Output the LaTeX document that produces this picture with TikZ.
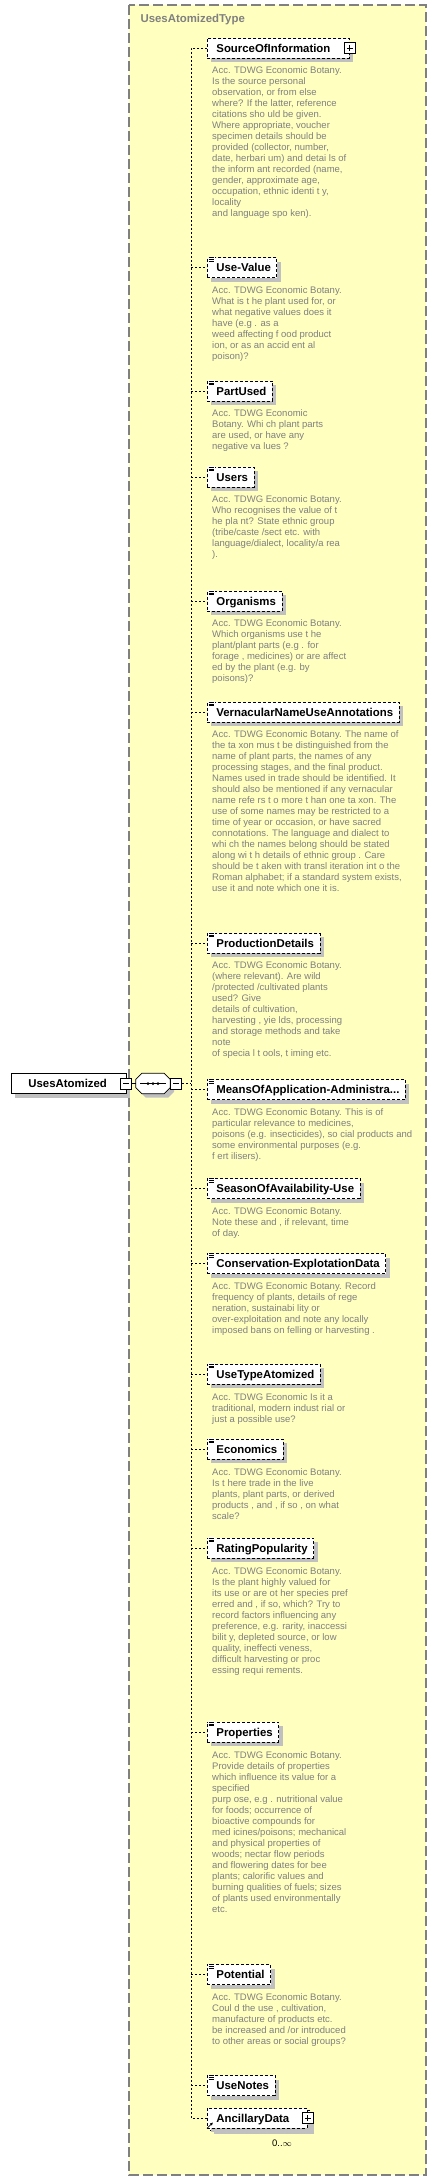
\documentclass[tikz,border=0pt]{standalone}
\usepackage{fontspec}
\setmainfont{Liberation Sans}
\usetikzlibrary{positioning,shadows,arrows.meta}

\definecolor{typeyellow}{RGB}{255,255,192}
\definecolor{typegray}{RGB}{128,128,128}
\definecolor{docgray}{RGB}{128,128,128}
\definecolor{shadowgray}{RGB}{192,192,192}

\newcommand\elemfont{\fontsize{11.4}{13}\selectfont\bfseries}
\newcommand\docfont{\fontsize{9.5}{11}\selectfont}

\tikzset{
    typebox/.style={fill=typeyellow, draw=typegray, line width=1.6pt, dash pattern=on 10pt off 4pt},
    elem/.style={draw, fill=white, line width=0.8pt, dash pattern=on 3pt off 2pt,
        minimum height=20pt, inner xsep=0pt, inner ysep=0pt, anchor=west,
        text height=8.2pt, text depth=0pt, font=\elemfont,
        execute at begin node=\hspace*{9pt}, execute at end node=\hspace*{6pt},
        drop shadow={shadow xshift=4pt, shadow yshift=-4pt, fill=shadowgray, opacity=1}},
    doc/.style={align=left, inner sep=0pt, text=docgray, font=\docfont},
    conn/.style={line width=0.8pt, dash pattern=on 2pt off 2pt},
    pm/.style={draw, solid, fill=white, line width=0.8pt, minimum size=11pt, inner sep=0pt},
    plus/.style={pm, path picture={\draw[line width=0.8pt]
        ([xshift=2.5pt]path picture bounding box.west) -- ([xshift=-2.5pt]path picture bounding box.east)
        ([yshift=-2.5pt]path picture bounding box.north) -- ([yshift=2.5pt]path picture bounding box.south);}},
    minus/.style={pm, path picture={\draw[line width=0.8pt]
        ([xshift=2.5pt]path picture bounding box.west) -- ([xshift=-2.5pt]path picture bounding box.east);}},
    seqbox/.style={minimum width=34pt, minimum height=20pt, inner sep=0pt},
    seqline/.style={draw, fill=white, line width=0.8pt, line join=round,
        drop shadow={shadow xshift=4pt, shadow yshift=-4pt, fill=shadowgray, opacity=1}}
}

\begin{document}
\begin{tikzpicture}[x=1pt,y=-1pt]
    \useasboundingbox (0,0) rectangle (437,2181);

    %type box:
    \path[typebox] (129,5) rectangle (426,2175);
    \node[anchor=base west, text=typegray, font=\elemfont] (title) at (137,23) {UsesAtomizedType};

    \coordinate (spine) at (191,48);

    %root and sequence:
    \node[elem, solid, execute at begin node=\hspace*{8pt}, execute at end node=\hspace*{13pt}] (uses) at (11,1083.5) {UsesAtomized};
    \node[minus] (usesm) at (uses.east) {};
    \node[seqbox] (seq) at (153,1083.5) {};
    \path[seqline] ([xshift=6pt]seq.north west) -- ([xshift=-6pt]seq.north east)
        -- ([yshift=-6pt]seq.north east) -- ([yshift=6pt]seq.south east)
        -- ([xshift=-6pt]seq.south east) -- ([xshift=6pt]seq.south west)
        -- ([yshift=6pt]seq.south west) -- ([yshift=-6pt]seq.north west) -- cycle;
    \node[minus, right=0pt of seq] (seqm) {};
    \draw[line width=0.8pt] ([xshift=-13pt]seq.center) -- ([xshift=13pt]seq.center);
    \foreach \dx in {-5,0,5}
        \fill ([xshift=\dx pt]seq.center) circle (1.5pt);

    %elements:
    \node[elem, execute at end node=\hspace*{13pt}] (src) at (207,48) {SourceOfInformation};
    \node[plus] (srcp) at (src.east) {};
    \node[doc, below right=8.5pt and 5pt of src.south west] (srcdoc) {Acc. TDWG Economic Botany.\\Is the source personal\\observation, or from else\\where? If the latter, reference\\citations sho uld be given.\\Where appropriate, voucher\\specimen details should be\\provided (collector, number,\\date, herbari um) and detai ls of\\the inform ant recorded (name,\\gender, approximate age,\\occupation, ethnic identi t y,\\locality\\and language spo ken).};

    \node[elem] (use) at (207,267.5) {Use-Value};
    \node[doc, below right=8.5pt and 5pt of use.south west] (usedoc) {Acc. TDWG Economic Botany.\\What is t he plant used for, or\\what negative values does it\\have (e.g . as a\\weed affecting f ood product\\ion, or as an accid ent al\\poison)?};

    \node[elem] (part) at (207,391) {PartUsed};
    \node[doc, below right=8.5pt and 5pt of part.south west] (partdoc) {Acc. TDWG Economic\\Botany. Whi ch plant parts\\are used, or have any\\negative va lues ?};

    \node[elem] (users) at (207,477) {Users};
    \node[doc, below right=8.5pt and 5pt of users.south west] (usersdoc) {Acc. TDWG Economic Botany.\\Who recognises the value of t\\he pla nt? State ethnic group\\(tribe/caste /sect etc. with\\language/dialect, locality/a rea\\).};

    \node[elem] (org) at (207,601) {Organisms};
    \node[doc, below right=8.5pt and 5pt of org.south west] (orgdoc) {Acc. TDWG Economic Botany.\\Which organisms use t he\\plant/plant parts (e.g . for\\forage , medicines) or are affect\\ed by the plant (e.g. by\\poisons)?};

    \node[elem] (vern) at (207,712) {VernacularNameUseAnnotations};
    \node[doc, below right=8.5pt and 5pt of vern.south west] (verndoc) {Acc. TDWG Economic Botany. The name of\\the ta xon mus t be distinguished from the\\name of plant parts, the names of any\\processing stages, and the final product.\\Names used in trade should be identified. It\\should also be mentioned if any vernacular\\name refe rs t o more t han one ta xon. The\\use of some names may be restricted to a\\time of year or occasion, or have sacred\\connotations. The language and dialect to\\whi ch the names belong should be stated\\along wi t h details of ethnic group . Care\\should be t aken with transl iteration int o the\\Roman alphabet; if a standard system exists,\\use it and note which one it is.};

    \node[elem] (prod) at (207,943) {ProductionDetails};
    \node[doc, below right=8.5pt and 5pt of prod.south west] (proddoc) {Acc. TDWG Economic Botany.\\(where relevant). Are wild\\/protected /cultivated plants\\used? Give\\details of cultivation,\\harvesting , yie lds, processing\\and storage methods and take\\note\\of specia l t ools, t iming etc.};

    \node[elem] (means) at (207,1089.5) {MeansOfApplication-Administra...};
    \node[doc, below right=8.5pt and 5pt of means.south west] (meansdoc) {Acc. TDWG Economic Botany. This is of\\particular relevance to medicines,\\poisons (e.g. insecticides), so cial products and\\some environmental purposes (e.g.\\f ert ilisers).};

    \node[elem] (season) at (207,1188.5) {SeasonOfAvailability-Use};
    \node[doc, below right=8.5pt and 5pt of season.south west] (seasondoc) {Acc. TDWG Economic Botany.\\Note these and , if relevant, time\\of day.};

    \node[elem] (cons) at (207,1263.5) {Conservation-ExplotationData};
    \node[doc, below right=8.5pt and 5pt of cons.south west] (consdoc) {Acc. TDWG Economic Botany. Record\\frequency of plants, details of rege\\neration, sustainabi lity or\\over-exploitation and note any locally\\imposed bans on felling or harvesting .};

    \node[elem] (usetype) at (207,1374) {UseTypeAtomized};
    \node[doc, below right=8.5pt and 5pt of usetype.south west] (usetypedoc) {Acc. TDWG Economic Is it a\\traditional, modern indust rial or\\just a possible use?};

    \node[elem] (econ) at (207,1449) {Economics};
    \node[doc, below right=8.5pt and 5pt of econ.south west] (econdoc) {Acc. TDWG Economic Botany.\\Is t here trade in the live\\plants, plant parts, or derived\\products , and , if so , on what\\scale?};

    \node[elem] (rating) at (207,1548) {RatingPopularity};
    \node[doc, below right=8.5pt and 5pt of rating.south west] (ratingdoc) {Acc. TDWG Economic Botany.\\Is the plant highly valued for\\its use or are ot her species pref\\erred and , if so, which? Try to\\record factors influencing any\\preference, e.g. rarity, inaccessi\\bilit y, depleted source, or low\\quality, ineffecti veness,\\difficult harvesting or proc\\essing requi rements.};

    \node[elem] (props) at (207,1732) {Properties};
    \node[doc, below right=8.5pt and 5pt of props.south west] (propsdoc) {Acc. TDWG Economic Botany.\\Provide details of properties\\which influence its value for a\\specified\\purp ose, e.g . nutritional value\\for foods; occurrence of\\bioactive compounds for\\med icines/poisons; mechanical\\and physical properties of\\woods; nectar flow periods\\and flowering dates for bee\\plants; calorific values and\\burning qualities of fuels; sizes\\of plants used environmentally\\etc.};

    \node[elem] (pot) at (207,1974.5) {Potential};
    \node[doc, below right=8.5pt and 5pt of pot.south west] (potdoc) {Acc. TDWG Economic Botany.\\Coul d the use , cultivation,\\manufacture of products etc.\\be increased and /or introduced\\to other areas or social groups?};

    \node[elem] (notes) at (207,2085.5) {UseNotes};

    \node[elem, execute at end node=\hspace*{12pt}] (ancb) at (210,2120) {\phantom{AncillaryData}};
    \node[elem, execute at end node=\hspace*{12pt}] (anc) at (207,2118) {AncillaryData};
    \node[plus] (ancp) at (anc.east) {};
    \draw[-{Latex[length=3pt,width=3pt]}, line width=0.8pt] (anc.south west) -- ++(6pt,6pt);
    \node[font=\docfont] (occ) at (282,2143) {0..$\infty$};

    %draw connectors:
    \draw[conn] (src.west) -| (spine) |- (anc.west);
    \foreach \n in {use,part,users,org,vern,prod,means,season,cons,usetype,econ,rating,props,pot,notes}
        \draw[conn] (spine |- \n.west) -- (\n.west);
    \draw[line width=0.8pt] (usesm.east) -- (seq.west);
    \draw[conn] (seqm.east) -- (spine |- seqm.east);

    %doc icons:
    \foreach \n in {use,part,users,org,vern,prod,means,season,cons,usetype,econ,rating,props,pot,notes}{
        \fill[white] ([xshift=1pt,yshift=0.5pt]\n.north west) rectangle ([xshift=7.5pt,yshift=-4.5pt]\n.north west);
        \foreach \dy in {0.5,2.2,3.9}
            \draw[line width=0.6pt] ([xshift=1.5pt,yshift=-\dy pt]\n.north west) -- ++(5.5pt,0pt);
    }

\end{tikzpicture}
\end{document}
